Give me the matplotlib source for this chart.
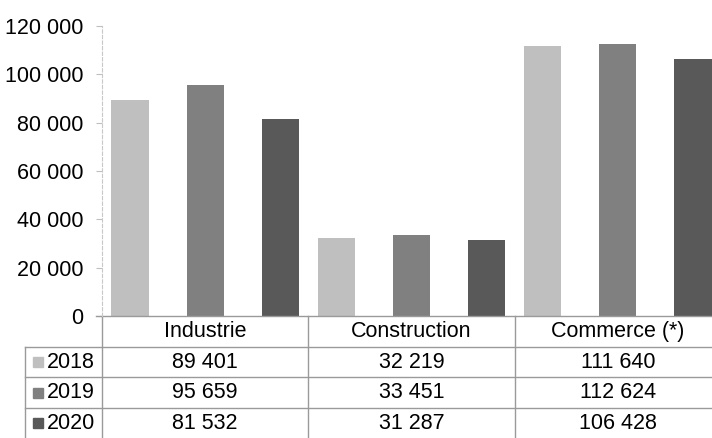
import matplotlib
matplotlib.use("Agg")
import matplotlib.pyplot as plt
from matplotlib.ticker import FuncFormatter
import numpy as np

plt.rcParams['font.family'] = ['Liberation Sans', 'DejaVu Sans']

categories = ["Industrie", "Construction", "Commerce (*)"]
years = ["2018", "2019", "2020"]
v2018 = [89401, 32219, 111640]
v2019 = [95659, 33451, 112624]
v2020 = [81532, 31287, 106428]
series = [v2018, v2019, v2020]
colors = ["#BFBFBF", "#808080", "#595959"]

W, H = 712, 438
fs = 15.5
fig = plt.figure(figsize=(W / 100, H / 100), dpi=100)
# axes box in pixels: x 102..721, y 26..316
ax = fig.add_axes([102 / W, (H - 316) / H, 619 / W, 290 / H])

x = np.arange(len(categories))
offsets = [-0.364, 0, 0.364]
for vals, off, col in zip(series, offsets, colors):
    ax.bar(x + off, vals, width=0.18, color=col, zorder=2)

ax.set_xlim(-0.5, 2.5)
ax.set_ylim(0, 120000)
ax.set_yticks(np.arange(0, 120001, 20000))
ax.yaxis.set_major_formatter(FuncFormatter(lambda v, p: f"{int(v):,}".replace(",", " ")))
ax.tick_params(axis='y', labelsize=fs, length=4.3, width=0.8, color="#BFBFBF", pad=9)
ax.set_xticks([])
for s in ["top", "right", "bottom"]:
    ax.spines[s].set_visible(False)
ax.spines["left"].set_color("#C8C8C8")
ax.spines["left"].set_linestyle((0, (3, 2)))
ax.spines["left"].set_linewidth(0.8)

# data table below the plot
tr = ax.get_xaxis_transform()
lc = "#9A9A9A"
rh = 30.7 / 290
xl = -0.5 - 77 / 206.3
# horizontal lines
ax.plot([-0.5 - 6 / 206.3, 2.6], [0, 0], color=lc, lw=1, transform=tr, clip_on=False)
for i in range(1, 4):
    ax.plot([xl, 2.6], [-i * rh, -i * rh], color=lc, lw=1, transform=tr, clip_on=False)
# vertical lines
for xv in [-0.5, 0.5, 1.5]:
    ax.plot([xv, xv], [0, -4 * rh], color=lc, lw=1, transform=tr, clip_on=False)
ax.plot([xl, xl], [-rh, -4 * rh], color=lc, lw=1, transform=tr, clip_on=False)

for xi, cat in zip(x, categories):
    ax.text(xi, -0.5 * rh, cat, ha="center", va="center", fontsize=fs, transform=tr)

for r, (yr, vals, col) in enumerate(zip(years, series, colors)):
    yc = -(r + 1.5) * rh
    ax.plot([-0.5 - 64 / 206.3], [yc], marker="s", ms=7, color=col, transform=tr, clip_on=False)
    ax.text(-0.5 - 55 / 206.3, yc, yr, ha="left", va="center", fontsize=fs, transform=tr)
    for xi, v in zip(x, vals):
        ax.text(xi, yc, f"{v:,}".replace(",", " "), ha="center", va="center",
                fontsize=fs, transform=tr)

fig.savefig("out.png", dpi=100)
